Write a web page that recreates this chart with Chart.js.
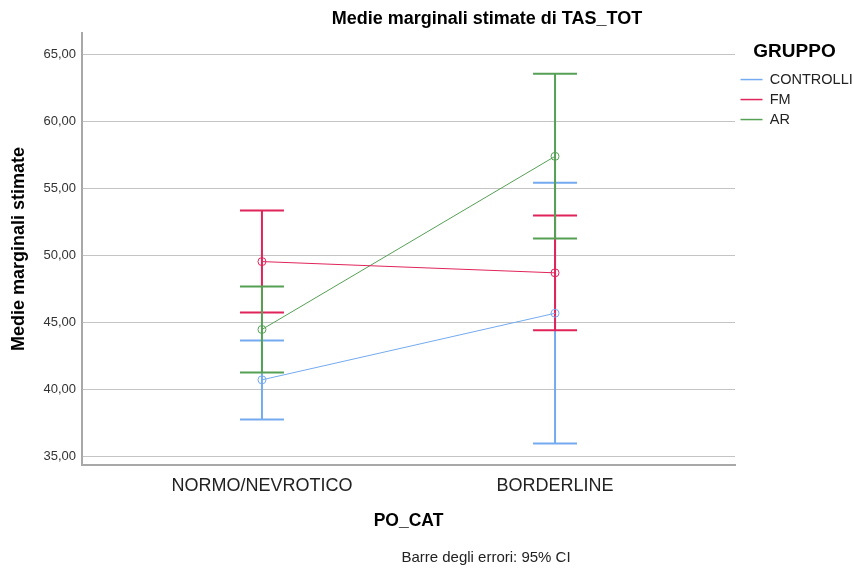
<!DOCTYPE html>
<html>
<head>
<meta charset="utf-8">
<script src="https://cdn.jsdelivr.net/npm/chart.js@4.4.1/dist/chart.umd.min.js"></script>
<style>
  html, body { margin: 0; padding: 0; background: #fff; }
  #wrap { width: 854px; height: 569px; }
</style>
</head>
<body>
<div id="wrap"><canvas id="chart"></canvas></div>
<script>
const categories = ['NORMO/NEVROTICO', 'BORDERLINE'];
const groups = ['CONTROLLI', 'FM', 'AR'];
const groupColors = ['#74aaf0', '#e0245a', '#55a055'];

const controlliMean = [40.72, 45.69];
const controlliLow = [37.76, 35.97];
const controlliHigh = [43.66, 55.43];

const fmMean = [49.55, 48.71];
const fmLow = [45.75, 44.43];
const fmHigh = [53.36, 52.99];

const arMean = [44.48, 57.41];
const arLow = [41.27, 51.27];
const arHigh = [47.69, 63.58];

const yTicks = [35, 40, 45, 50, 55, 60, 65];

const means = [controlliMean, fmMean, arMean];
const lows = [controlliLow, fmLow, arLow];
const highs = [controlliHigh, fmHigh, arHigh];

const FONT = '"Liberation Sans", Arial, sans-serif';

function meanPoints(values) {
    return values.map((v, i) => ({ x: i, y: v }));
}

// vertical bar + caps per category, null point breaks the line between them
function errorPoints(low, high) {
    const pts = [];
    categories.forEach((c, i) => {
        pts.push({ x: i, y: low[i] });
        pts.push({ x: i, y: high[i] });
        pts.push({ x: i + 0.5, y: null });
    });
    return pts;
}

const datasets = [];
groups.forEach((g, k) => {
    datasets.push({
        label: g,
        data: meanPoints(means[k]),
        borderColor: groupColors[k],
        backgroundColor: 'rgba(0,0,0,0)',
        borderWidth: 1,
        pointStyle: 'circle',
        pointRadius: 4,
        pointBorderWidth: 1,
        pointBackgroundColor: 'rgba(0,0,0,0)',
        order: 0
    });
});
groups.forEach((g, k) => {
    datasets.push({
        label: g + ' CI',
        data: errorPoints(lows[k], highs[k]),
        borderColor: groupColors[k],
        borderWidth: 2,
        pointStyle: 'line',
        pointRadius: 22,
        pointHoverRadius: 22,
        pointBorderWidth: 2,
        spanGaps: false,
        order: 3 - k
    });
});

const textPlugin = {
    id: 'textPlugin',
    afterDraw(chart) {
        const ctx = chart.ctx;
        ctx.save();
        ctx.fillStyle = '#000';
        ctx.textAlign = 'center';
        ctx.textBaseline = 'middle';
        ctx.font = 'bold 18px ' + FONT;
        ctx.fillText('Medie marginali stimate di TAS_TOT', 487, 19);
        ctx.fillStyle = '#222';
        ctx.font = '15px ' + FONT;
        ctx.fillText('Barre degli errori: 95% CI', 486, 558);
        ctx.restore();
    }
};

new Chart(document.getElementById('chart'), {
    type: 'line',
    data: { datasets: datasets },
    plugins: [textPlugin],
    options: {
        responsive: true,
        maintainAspectRatio: false,
        animation: false,
        layout: { padding: { top: 33, right: 0, bottom: 34, left: 0 } },
        plugins: {
            tooltip: { enabled: false },
            legend: {
                position: 'right',
                align: 'start',
                maxWidth: 119,
                title: {
                    display: true,
                    text: 'GRUPPO',
                    color: '#000',
                    font: { family: FONT, size: 19, weight: 'bold' },
                    padding: { top: 9, bottom: 2 }
                },
                labels: {
                    generateLabels: chart => {
                        const items = Chart.defaults.plugins.legend.labels.generateLabels(chart);
                        return items.filter(it => groups.includes(it.text)).map(it => {
                            it.lineWidth = 1.5;
                            return it;
                        });
                    },
                    usePointStyle: true,
                    pointStyle: 'line',
                    pointStyleWidth: 22,
                    padding: 5.5,
                    color: '#222',
                    font: { family: FONT, size: 14.5 }
                }
            }
        },
        scales: {
            x: {
                type: 'linear',
                min: -0.614,
                max: 1.614,
                afterBuildTicks: scale => {
                    scale.ticks = categories.map((c, i) => ({ value: i }));
                },
                afterFit: scale => { scale.height = 70; },
                grid: { display: false },
                border: { display: true, color: '#a8a8a8', width: 2 },
                ticks: {
                    autoSkip: false,
                    maxRotation: 0,
                    padding: 2,
                    color: '#222',
                    font: { family: FONT, size: 18 },
                    callback: v => categories[v]
                },
                title: {
                    display: true,
                    text: 'PO_CAT',
                    color: '#000',
                    font: { family: FONT, size: 17.5, weight: 'bold' },
                    padding: { top: 0, bottom: 3 }
                }
            },
            y: {
                min: 34.36,
                max: 66.62,
                afterBuildTicks: scale => {
                    scale.ticks = yTicks.map(v => ({ value: v }));
                },
                afterFit: scale => { scale.width = 82; },
                grid: { color: '#c4c4c4', lineWidth: 1, drawTicks: false },
                border: { display: true, color: '#a8a8a8', width: 2 },
                ticks: {
                    padding: 6,
                    color: '#333',
                    font: { family: FONT, size: 13 },
                    callback: v => v.toFixed(2).replace('.', ',')
                },
                title: {
                    display: true,
                    text: 'Medie marginali stimate',
                    color: '#000',
                    font: { family: FONT, size: 18, weight: 'bold' },
                    padding: { top: 8, bottom: 0 }
                }
            }
        }
    }
});
</script>
</body>
</html>
